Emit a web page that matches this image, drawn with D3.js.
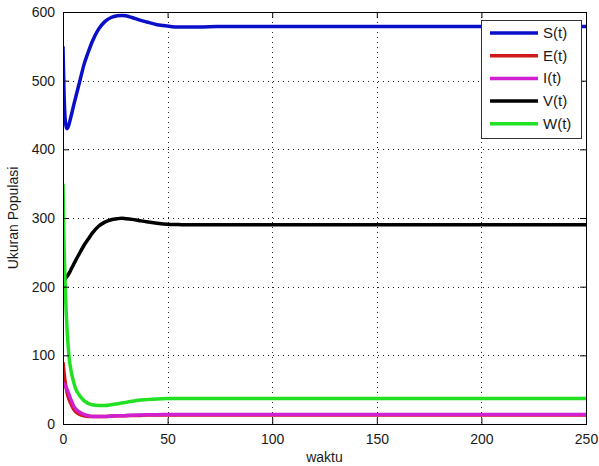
<!DOCTYPE html>
<html>
<head>
<meta charset="utf-8">
<script src="https://cdn.jsdelivr.net/npm/d3@7"></script>
<style>
  html, body { margin: 0; padding: 0; background: #fff; }
  svg { display: block; font-family: "Liberation Sans", Arial, sans-serif; }
</style>
</head>
<body>
<svg id="chart" width="599" height="466"></svg>
<script>
// Sample times (waktu) shared by every compartment
const times = [0, 0.5, 1, 1.5, 2, 3, 4, 5, 6, 8, 10, 12, 14, 17, 20, 23, 26, 28, 30, 33, 36, 40, 45, 50, 55, 60, 70, 80, 100, 150, 200, 250];

// Compartment sizes at each sample time
const S = [550, 480, 445, 433, 430, 438, 450, 463, 475, 499, 523, 541, 557, 575, 586, 592, 594.5, 595, 594.5, 592, 589, 585.5, 581.5, 579.5, 578, 578, 578.5, 579, 579, 579, 579, 579];
const E = [90, 75, 62, 53, 45, 35, 28, 22, 18, 14, 12, 11, 11, 11, 11, 11.5, 12, 12, 12, 12.5, 12.5, 13, 13, 13, 13, 13, 13, 13, 13, 13, 13, 13];
const I = [60, 58, 56, 53, 50, 42, 34, 27, 22, 17, 14, 12, 11, 11, 11, 11.5, 12, 12, 12.3, 12.7, 13, 13.3, 13.6, 13.8, 14, 14, 14, 14, 14, 14, 14, 14];
const V = [205, 208, 211, 213, 215, 220, 226, 232, 238, 249, 260, 269, 278, 288, 294, 297.5, 299, 299.5, 299, 298, 296.5, 294.5, 292.5, 291, 290.5, 290, 290, 290, 290, 290, 290, 290];
const W = [350, 260, 205, 165, 135, 95, 75, 62, 52, 41, 34, 30, 28, 27, 27, 28, 29.5, 30.5, 31.5, 33, 34.5, 35.5, 36.5, 37, 37, 37, 37, 37, 37, 37, 37, 37];

const seriesNames = ["S(t)", "E(t)", "I(t)", "V(t)", "W(t)"];
const seriesColors = ["#0a10c8", "#d01818", "#d020d0", "#000000", "#22e022"];
const seriesValues = [S, E, I, V, W];

const xTicks = [0, 50, 100, 150, 200, 250];
const yTicks = [0, 100, 200, 300, 400, 500, 600];

const margin = { left: 63, top: 12, right: 13, bottom: 42 };
const W_PX = 599, H_PX = 466;
const plotW = W_PX - margin.left - margin.right;
const plotH = H_PX - margin.top - margin.bottom;

const svg = d3.select("#chart");
const g = svg.append("g").attr("transform", `translate(${margin.left},${margin.top})`);

const x = d3.scaleLinear().domain([0, 250]).range([0, plotW]);
const y = d3.scaleLinear().domain([0, 600]).range([plotH, 0]);

// Dotted grid
const grid = g.append("g").attr("stroke", "#222").attr("stroke-width", 1).attr("stroke-dasharray", "1,4");
grid.selectAll(".gx").data(xTicks.slice(1, -1)).join("line")
  .attr("x1", d => Math.round(x(d)) + 0.5).attr("x2", d => Math.round(x(d)) + 0.5)
  .attr("y1", 0).attr("y2", plotH);
grid.selectAll(".gy").data(yTicks.slice(1, -1)).join("line")
  .attr("y1", d => Math.round(y(d)) + 0.5).attr("y2", d => Math.round(y(d)) + 0.5)
  .attr("x1", 0).attr("x2", plotW);

// Curves
const line = d3.line()
  .x((d, i) => x(times[i]))
  .y(d => y(d))
  .curve(d3.curveMonotoneX);

svg.append("clipPath").attr("id", "plotclip")
  .append("rect").attr("x", 0).attr("y", -3).attr("width", plotW).attr("height", plotH + 3);

g.append("g").attr("clip-path", "url(#plotclip)")
  .selectAll("path").data(seriesValues).join("path")
  .attr("d", d => line(d))
  .attr("fill", "none")
  .attr("stroke", (d, i) => seriesColors[i])
  .attr("stroke-width", 3.5)
  .attr("stroke-linejoin", "round");

// Axes with inward ticks on all four sides
const tickLen = 6;
const fontSize = 14;
const axBottom = g.append("g").attr("transform", `translate(0,${plotH})`)
  .call(d3.axisBottom(x).tickValues(xTicks).tickSizeInner(-tickLen).tickSizeOuter(0).tickPadding(10));
const axLeft = g.append("g")
  .call(d3.axisLeft(y).tickValues(yTicks).tickSizeInner(-tickLen).tickSizeOuter(0).tickPadding(8));
const axTop = g.append("g")
  .call(d3.axisTop(x).tickValues(xTicks).tickSizeInner(-tickLen).tickSizeOuter(0).tickFormat(""));
const axRight = g.append("g").attr("transform", `translate(${plotW},0)`)
  .call(d3.axisRight(y).tickValues(yTicks).tickSizeInner(-tickLen).tickSizeOuter(0).tickFormat(""));

[axBottom, axLeft, axTop, axRight].forEach(a => {
  a.select(".domain").remove();
  a.selectAll("line").attr("stroke", "#000");
  a.selectAll("text").attr("font-size", fontSize).attr("fill", "#1a1a1a")
    .attr("font-family", "'Liberation Sans', Arial, sans-serif");
});

// Box
g.append("rect").attr("x", 0.5).attr("y", 0.5).attr("width", plotW).attr("height", plotH)
  .attr("fill", "none").attr("stroke", "#000").attr("stroke-width", 1);

// Axis titles
svg.append("text").attr("x", margin.left + plotW / 2).attr("y", 462)
  .attr("text-anchor", "middle").attr("font-size", fontSize).attr("fill", "#1a1a1a")
  .text("waktu");
svg.append("text")
  .attr("transform", `translate(18,${margin.top + plotH / 2}) rotate(-90)`)
  .attr("text-anchor", "middle").attr("font-size", fontSize).attr("fill", "#1a1a1a")
  .text("Ukuran Populasi");

// Legend
const legend = svg.append("g").attr("transform", "translate(481,20)");
legend.append("rect").attr("x", 0.5).attr("y", 0.5).attr("width", 100).attr("height", 118)
  .attr("fill", "#fff").attr("stroke", "#333").attr("stroke-width", 1);
const items = legend.selectAll(".item").data(seriesNames).join("g")
  .attr("transform", (d, i) => `translate(0,${13 + i * 22.7})`);
items.append("line").attr("x1", 9).attr("x2", 57).attr("y1", 0).attr("y2", 0)
  .attr("stroke", (d, i) => seriesColors[i]).attr("stroke-width", 3.5);
items.append("text").attr("x", 62).attr("y", 5).attr("font-size", 15).attr("fill", "#1a1a1a")
  .text(d => d);
</script>
</body>
</html>
